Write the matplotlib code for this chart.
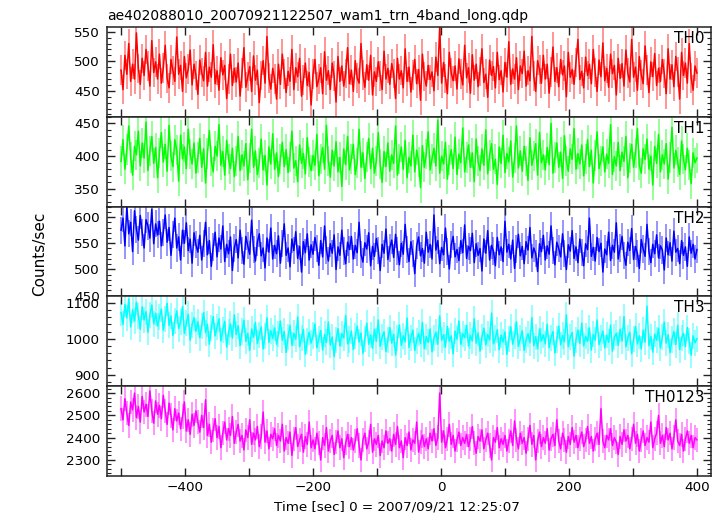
import numpy as np
import matplotlib
matplotlib.use("Agg")
import matplotlib.pyplot as plt
from matplotlib.ticker import MultipleLocator, FuncFormatter

plt.rcParams['font.family'] = ['DejaVu Sans']

title = "ae402088010_20070921122507_wam1_trn_4band_long.qdp"
xlabel = "Time [sec] 0 = 2007/09/21 12:25:07"
ylabel = "Counts/sec"
t_start, t_end = -500, 400
bands = ["TH0", "TH1", "TH2", "TH3", "TH0123"]

th0 = [485, 452, 510, 478, 530, 466, 495, 470, 548, 488, 461, 505, 476, 520, 492, 458, 535, 481, 499, 470,
       512, 463, 489, 527, 471, 455, 503, 484, 466, 541, 478, 493, 449, 508, 472, 487, 519, 460, 495, 476,
       444, 502, 481, 467, 515, 458, 490, 473, 528, 462, 484, 451, 506, 477, 493, 437, 470, 512, 459, 488,
       465, 497, 441, 480, 523, 456, 474, 491, 449, 509, 468, 485, 430, 476, 501, 463, 542, 472, 453, 488,
       470, 436, 495, 461, 512, 478, 447, 483, 466, 520, 452, 489, 474, 505, 441, 468, 497, 459, 481, 426,
       478, 503, 457, 470, 489, 445, 516, 468, 484, 452, 497, 475, 431, 508, 466, 492, 458, 479, 523, 462,
       485, 449, 501, 472, 463, 530, 477, 456, 494, 468, 510, 443, 482, 466, 499, 475, 452, 517, 470, 488,
       461, 496, 479, 437, 505, 470, 484, 455, 521, 466, 490, 448, 477, 503, 462, 486, 434, 512, 474, 458,
       493, 469, 482, 450, 507, 476, 559, 463, 498, 471, 445, 515, 480, 467, 492, 453, 504, 478, 460, 527,
       472, 489, 446, 511, 468, 495, 457, 483, 521, 464, 478, 439, 502, 476, 491, 455, 515, 469, 484, 448,
       498, 473, 533, 461, 487, 470, 506, 452, 492, 479, 517, 458, 484, 467, 542, 475, 449, 501, 486, 463,
       510, 470, 495, 446, 482, 524, 466, 489, 457, 503, 477, 492, 440, 515, 473, 486, 461, 498, 537, 469,
       483, 455, 507, 476, 495, 462, 520, 481, 449, 502, 474, 531, 467, 488, 456, 512, 479, 493, 443, 505,
       471, 496, 458, 519, 480, 465, 537, 473, 490, 451, 508, 477, 462, 526, 485, 447, 499, 474, 513, 459,
       488, 466, 503, 479, 445, 521, 470, 494, 457, 508, 482, 436, 515, 476, 497, 463, 530, 472, 451, 492, 480]

th1 = [392, 425, 380, 410, 446, 398, 371, 415, 402, 438, 385, 420, 397, 452, 378, 408, 430, 389, 413, 367,
       405, 436, 391, 418, 377, 447, 400, 384, 425, 409, 362, 432, 396, 414, 381, 441, 403, 388, 420, 374,
       398, 427, 383, 411, 359, 404, 439, 392, 376, 415, 400, 448, 386, 407, 371, 424, 395, 381, 412, 369,
       393, 430, 378, 402, 385, 419, 364, 397, 441, 383, 408, 372, 390, 426, 379, 401, 356, 414, 388, 434,
       380, 405, 369, 396, 421, 384, 410, 375, 399, 438, 382, 393, 361, 417, 389, 404, 373, 428, 391, 378,
       401, 386, 433, 370, 395, 413, 380, 447, 392, 368, 409, 385, 422, 376, 398, 354, 411, 387, 430, 379,
       396, 418, 372, 390, 441, 383, 405, 366, 399, 427, 381, 412, 374, 393, 436, 388, 360, 407, 384, 420,
       377, 402, 389, 446, 371, 395, 414, 380, 424, 367, 398, 385, 432, 376, 409, 391, 352, 416, 383, 403,
       437, 379, 396, 412, 385, 455, 374, 400, 388, 421, 365, 394, 410, 381, 429, 372, 403, 390, 443, 376,
       398, 417, 383, 405, 361, 426, 392, 378, 411, 386, 440, 373, 401, 419, 380, 395, 357, 414, 389, 432,
       375, 404, 391, 423, 368, 397, 446, 382, 408, 377, 415, 393, 363, 428, 386, 400, 419, 371, 436, 390,
       402, 379, 413, 387, 450, 374, 398, 420, 383, 406, 366, 431, 392, 377, 411, 395, 442, 380, 404, 388,
       417, 370, 396, 425, 384, 409, 359, 401, 437, 381, 393, 414, 376, 403, 389, 448, 372, 399, 385, 421,
       378, 406, 392, 430, 367, 397, 418, 383, 405, 442, 386, 374, 411, 395, 426, 380, 400, 356, 415, 389,
       433, 376, 402, 388, 419, 365, 398, 444, 382, 409, 391, 372, 423, 395, 379, 412, 386, 358, 405, 390, 397]

th2 = [575, 598, 545, 620, 568, 590, 534, 612, 577, 556, 603, 571, 541, 595, 583, 560, 615, 549, 587, 566,
       592, 545, 571, 604, 552, 580, 527, 566, 598, 541, 562, 518, 575, 550, 589, 536, 558, 512, 570, 547,
       533, 565, 518, 549, 590, 528, 555, 506, 543, 571, 524, 560, 539, 583, 515, 548, 530, 562, 498, 541,
       557, 522, 575, 536, 510, 563, 545, 529, 594, 538, 516, 552, 568, 526, 541, 503, 560, 533, 579, 520,
       546, 530, 564, 512, 549, 587, 527, 541, 505, 558, 536, 572, 521, 544, 495, 553, 532, 568, 518, 547,
       529, 561, 540, 508, 555, 524, 583, 537, 516, 549, 531, 566, 500, 543, 527, 575, 535, 511, 552, 538,
       563, 520, 546, 532, 590, 528, 514, 551, 539, 570, 507, 544, 525, 559, 536, 498, 548, 531, 577, 519,
       541, 556, 523, 567, 535, 509, 550, 529, 586, 538, 515, 553, 530, 492, 545, 562, 526, 540, 512, 571,
       533, 548, 520, 604, 537, 555, 511, 542, 528, 579, 534, 501, 547, 563, 524, 538, 517, 555, 532, 585,
       521, 544, 536, 569, 513, 549, 527, 540, 497, 558, 531, 574, 518, 546, 535, 507, 561, 528, 543, 515,
       592, 533, 548, 520, 556, 502, 539, 567, 526, 544, 511, 553, 537, 580, 522, 541, 530, 496, 549, 534,
       565, 518, 545, 529, 583, 536, 509, 552, 540, 524, 568, 531, 500, 547, 535, 574, 521, 543, 513, 558,
       532, 507, 549, 538, 598, 525, 542, 516, 561, 534, 550, 495, 539, 528, 571, 517, 546, 533, 589, 520,
       541, 563, 527, 508, 552, 536, 578, 519, 544, 531, 502, 557, 539, 525, 586, 534, 513, 548, 530, 566,
       522, 545, 537, 499, 560, 528, 551, 516, 573, 533, 540, 511, 555, 527, 543, 506, 562, 531, 548, 520, 538]

th3 = [1072, 1040, 1095, 1058, 1110, 1033, 1080, 1049, 1101, 1064, 1026, 1088, 1052, 1075, 1018, 1066, 1093, 1041, 1070, 1035,
       1060, 1082, 1024, 1055, 1098, 1037, 1063, 1009, 1050, 1077, 1028, 1046, 1089, 1015, 1043, 1068, 996, 1039, 1058, 1021,
       1047, 1003, 1035, 1072, 1017, 1040, 985, 1029, 1061, 1008, 1033, 1055, 994, 1024, 1048, 977, 1019, 1041, 1002, 1066,
       1012, 1036, 981, 1020, 1051, 993, 1015, 968, 1027, 1004, 1045, 987, 1011, 1033, 972, 1008, 1058, 990, 1022, 1001,
       1030, 985, 1013, 1049, 996, 1020, 962, 1006, 1037, 982, 1015, 999, 1060, 978, 1003, 1026, 957, 995, 1018, 988,
       1009, 1041, 975, 1000, 1023, 969, 1012, 990, 1046, 983, 1005, 951, 996, 1028, 980, 1014, 1002, 1064, 986, 998,
       1021, 970, 1007, 1035, 991, 1016, 960, 999, 1043, 985, 1010, 974, 1026, 993, 1052, 979, 1004, 1019, 965, 997,
       1031, 988, 1012, 955, 1001, 1038, 982, 1008, 992, 1057, 976, 1003, 1024, 968, 995, 1015, 987, 1045, 973, 1006,
       990, 1027, 964, 1002, 1018, 985, 1063, 996, 1011, 977, 1034, 993, 1008, 958, 1021, 999, 1049, 984, 1014, 1003,
       1037, 980, 1009, 994, 1055, 988, 1016, 966, 1005, 1029, 983, 1012, 997, 1071, 986, 1002, 1025, 970, 1010, 991,
       1019, 957, 999, 1033, 985, 1008, 1047, 979, 1001, 1022, 968, 996, 1014, 989, 1058, 981, 1006, 973, 1027, 994,
       1011, 986, 1040, 975, 1003, 1020, 961, 998, 1035, 983, 1009, 992, 1066, 978, 1004, 1017, 952, 997, 1024, 987,
       1043, 980, 1007, 993, 1030, 969, 1012, 996, 1052, 984, 1001, 1021, 975, 1010, 990, 1038, 966, 1005, 1015, 982,
       1026, 994, 1061, 978, 1003, 1018, 959, 999, 1034, 986, 1008, 972, 1023, 991, 1090, 981, 1006, 963, 1013, 996,
       1029, 975, 1004, 1046, 988, 1011, 962, 998, 1020, 984, 1037, 970, 1002, 1015, 978, 1031, 993, 955, 1008, 989, 1000]

th0123 = [2530, 2480, 2575, 2510, 2455, 2560, 2525, 2600, 2490, 2540, 2470, 2585, 2515, 2550, 2495, 2610, 2520, 2465, 2565, 2505,
          2545, 2485, 2590, 2520, 2460, 2555, 2500, 2435, 2530, 2475, 2510, 2440, 2495, 2560, 2430, 2480, 2415, 2505, 2455, 2520,
          2470, 2425, 2500, 2445, 2570, 2410, 2460, 2380, 2435, 2485, 2400, 2450, 2355, 2420, 2470, 2390, 2440, 2410, 2495, 2375,
          2425, 2460, 2385, 2410, 2345, 2435, 2400, 2480, 2370, 2420, 2390, 2450, 2360, 2405, 2515, 2380, 2430, 2350, 2415, 2395,
          2440, 2365, 2410, 2385, 2460, 2340, 2400, 2375, 2425, 2320, 2395, 2445, 2360, 2390, 2415, 2335, 2405, 2370, 2470, 2355,
          2390, 2350, 2420, 2375, 2300, 2400, 2365, 2445, 2340, 2385, 2410, 2325, 2380, 2430, 2355, 2395, 2310, 2375, 2415, 2360,
          2400, 2345, 2385, 2440, 2365, 2300, 2390, 2420, 2350, 2380, 2460, 2335, 2395, 2370, 2410, 2320, 2385, 2355, 2430, 2375,
          2395, 2340, 2415, 2370, 2450, 2355, 2385, 2310, 2400, 2365, 2425, 2345, 2390, 2375, 2470, 2335, 2380, 2410, 2360, 2395,
          2350, 2420, 2385, 2440, 2365, 2400, 2600, 2380, 2430, 2355, 2395, 2460, 2370, 2410, 2340, 2390, 2425, 2365, 2400, 2375,
          2415, 2360, 2395, 2450, 2375, 2330, 2405, 2385, 2435, 2350, 2390, 2420, 2365, 2300, 2400, 2380, 2445, 2355, 2395, 2370,
          2410, 2340, 2385, 2430, 2365, 2475, 2390, 2350, 2420, 2375, 2400, 2330, 2395, 2455, 2370, 2410, 2300, 2385, 2425, 2360,
          2400, 2375, 2440, 2345, 2395, 2415, 2365, 2480, 2385, 2350, 2420, 2390, 2335, 2405, 2370, 2445, 2380, 2410, 2355, 2395,
          2425, 2360, 2390, 2450, 2375, 2405, 2340, 2395, 2420, 2370, 2530, 2385, 2355, 2410, 2390, 2440, 2365, 2400, 2380, 2325,
          2405, 2370, 2435, 2385, 2410, 2350, 2395, 2460, 2375, 2415, 2340, 2390, 2430, 2365, 2400, 2380, 2470, 2355, 2395, 2420,
          2500, 2375, 2410, 2360, 2445, 2390, 2420, 2350, 2400, 2480, 2385, 2365, 2415, 2340, 2395, 2430, 2375, 2410, 2355, 2400, 2390]

errors = [25, 23, 26, 36, 55]
series = [th0, th1, th2, th3, th0123]
colors = ["#ff0000", "#00ff00", "#0000ff", "#00ffff", "#ff00ff"]
ylims = [(406, 558), (323, 460), (448.5, 620), (869, 1117), (2228, 2631)]
ymajor = [50, 50, 50, 100, 100]
yminor = [10, 10, 10, 20, 20]

fig = plt.figure(figsize=(7.24, 5.16), dpi=100)
gs = fig.add_gridspec(5, 1, left=107/724, right=711/724, bottom=1-476/516, top=1-27/516, hspace=0)

fmt = FuncFormatter(lambda v, p: ("%d" % v).replace("-", "\u2212") if int(round(v)) % 200 == 0 else "")

for i in range(5):
    ax = fig.add_subplot(gs[i])
    y = np.array(series[i], dtype=float)
    x = np.linspace(t_start, t_end, len(y))
    ax.vlines(x, y - errors[i], y + errors[i], colors=colors[i], alpha=0.42, lw=1.4, zorder=1)
    ax.plot(x, y, color=colors[i], lw=1.1, zorder=2)
    ax.set_xlim(-522, 422)
    ax.set_ylim(*ylims[i])
    ax.xaxis.set_major_locator(MultipleLocator(100))
    ax.xaxis.set_major_formatter(fmt)
    ax.yaxis.set_major_locator(MultipleLocator(ymajor[i]))
    ax.yaxis.set_minor_locator(MultipleLocator(yminor[i]))
    ax.tick_params(axis='both', which='both', direction='in', top=True, right=True,
                   labelsize=9.7, colors='#222222', labelcolor='black')
    ax.tick_params(axis='both', which='major', length=5.5, width=1)
    ax.tick_params(axis='y', which='minor', length=3, width=0.8)
    ax.tick_params(axis='y', which='major', pad=5)
    if i < 4:
        ax.tick_params(axis='x', labelbottom=False)
    for s in ax.spines.values():
        s.set_linewidth(1.1)
        s.set_color('#222222')
    ax.text(0.99, 0.955, bands[i], transform=ax.transAxes, ha='right', va='top', fontsize=11)
    if i == 0:
        ax.text(0.0, 1.04, title, transform=ax.transAxes, ha='left', va='bottom', fontsize=10)

fig.text(397/724, 1-507/516, xlabel, ha='center', va='center', fontsize=9.7)
fig.text(40/724, 1-254/516, ylabel, ha='center', va='center', rotation=90, fontsize=11)

fig.savefig("out.png", dpi=100)
